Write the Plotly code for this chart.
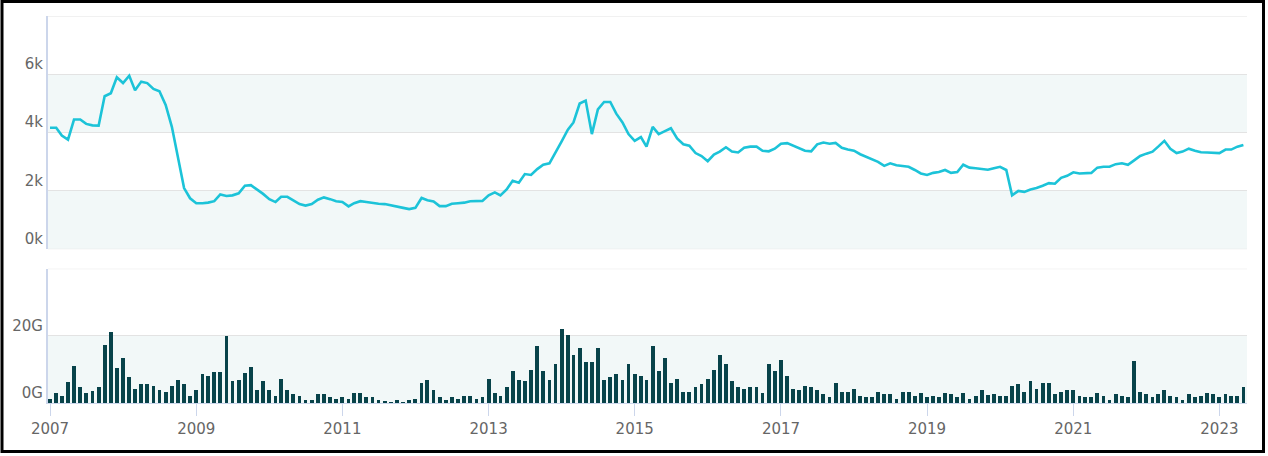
import pandas as pd
import plotly.graph_objects as go

# ---- data (monthly, Jan 2007 .. May 2023) ----
start_month = "2007-01-01"
n_months = 197

price_k = [
    4.17, 4.17, 3.90, 3.76, 4.45, 4.45, 4.30, 4.25, 4.24, 5.25,
    5.35, 5.90, 5.70, 5.95, 5.45, 5.75, 5.70, 5.50, 5.42, 4.95,
    4.20, 3.20, 2.10, 1.75, 1.58, 1.58, 1.60, 1.65, 1.88, 1.83,
    1.85, 1.92, 2.18, 2.20, 2.05, 1.90, 1.72, 1.62, 1.80, 1.80,
    1.68, 1.55, 1.50, 1.55, 1.70, 1.78, 1.72, 1.65, 1.62, 1.47,
    1.58, 1.65, 1.62, 1.58, 1.56, 1.55, 1.50, 1.45, 1.42, 1.38,
    1.42, 1.76, 1.68, 1.64, 1.48, 1.48, 1.56, 1.58, 1.60, 1.65,
    1.66, 1.66, 1.85, 1.95, 1.85, 2.05, 2.35, 2.28, 2.58, 2.55,
    2.75, 2.90, 2.95, 3.30, 3.70, 4.10, 4.35, 5.00, 5.10, 3.95,
    4.80, 5.05, 5.05, 4.65, 4.35, 3.95, 3.72, 3.85, 3.52, 4.20,
    3.95, 4.05, 4.15, 3.80, 3.60, 3.55, 3.30, 3.20, 3.02, 3.25,
    3.35, 3.50, 3.35, 3.32, 3.48, 3.52, 3.52, 3.38, 3.36, 3.45,
    3.62, 3.64, 3.55, 3.45, 3.38, 3.36, 3.60, 3.66, 3.62, 3.65,
    3.48, 3.42, 3.38, 3.26, 3.18, 3.08, 3.00, 2.86, 2.95, 2.88,
    2.85, 2.83, 2.72, 2.60, 2.55, 2.62, 2.65, 2.72, 2.62, 2.65,
    2.90, 2.80, 2.78, 2.76, 2.73, 2.78, 2.83, 2.72, 1.85, 2.00,
    1.97, 2.05, 2.10, 2.18, 2.27, 2.25, 2.45, 2.52, 2.64, 2.60,
    2.60, 2.62, 2.80, 2.83, 2.83, 2.92, 2.95, 2.90, 3.05, 3.20,
    3.28, 3.35, 3.52, 3.72, 3.45, 3.30, 3.35, 3.45, 3.38, 3.33,
    3.32, 3.32, 3.30, 3.42, 3.42, 3.52, 3.58,
]

volume_g = [
    1.2, 3.0, 2.2, 6.4, 11.2, 4.75, 3.0, 3.8, 4.75, 17.3,
    21.1, 10.4, 13.4, 7.9, 4.2, 5.7, 5.7, 5.1, 4.0, 3.3,
    5.1, 6.9, 5.7, 2.2, 4.0, 8.7, 8.1, 9.4, 9.4, 20.0,
    6.6, 6.9, 8.9, 10.7, 4.0, 6.6, 4.0, 2.2, 7.1, 4.0,
    2.8, 2.2, 1.0, 1.0, 2.8,
    2.8, 2.0, 1.3, 1.9, 1.3, 3.1, 3.1, 1.9, 1.9, 1.0,
    0.8, 0.5, 1.0, 0.4, 1.0, 1.3, 5.9, 6.8, 3.9, 1.9,
    1.0, 1.9, 1.3, 2.2, 2.2, 1.3, 1.9, 7.2, 3.1, 2.2,
    4.85, 9.5, 6.9, 6.5, 9.8, 17.0, 9.5, 6.9, 11.8, 22.0,
    20.3, 14.4, 16.4, 12.4, 12.4, 16.4, 6.8, 7.7, 8.6, 6.8,
    11.8, 8.6, 8.0, 6.8,
    17.0, 9.5, 13.6, 5.9, 7.2, 3.4, 3.4, 4.85, 5.7, 7.2,
    9.8, 14.5, 11.6, 6.5, 4.85, 4.3, 4.85, 4.85, 3.1, 11.8,
    9.5, 12.8, 8.0, 4.3, 4.0, 5.1, 4.85, 4.0, 2.8, 1.9,
    5.9, 3.4, 3.4, 4.3, 2.2, 1.9, 1.9, 3.4, 2.8, 2.8,
    1.3, 3.4, 3.4, 2.2, 3.1, 1.9, 2.2, 1.9, 3.1,
    2.8, 1.9, 3.1, 1.3, 2.2, 4.0, 2.5, 2.8, 2.2, 2.2,
    5.1, 5.7, 3.4, 6.6, 4.3, 6.0, 6.0, 2.8, 3.4, 4.0,
    4.0, 2.2, 1.9, 1.9, 3.1, 2.2, 1.0, 2.8, 2.2, 1.9,
    12.5, 3.4, 2.8, 1.9, 2.8, 4.0, 2.2, 1.9, 1.0, 2.8,
    1.9, 2.2, 3.1, 2.8, 1.9, 2.8, 2.2, 2.2, 4.85,
]

price_ticks = [0, 2000, 4000, 6000, 8000]
price_tick_text = ["0k", "2k", "4k", "6k", ""]
volume_ticks = [0, 20, 40]
volume_tick_text = ["0G", "20G", ""]

dates = pd.date_range(start_month, periods=n_months, freq="MS")
price = [v * 1000 for v in price_k]
assert len(price) == n_months and len(volume_g) == n_months

# ---- figure ----
W, H = 1268, 456
ML, MR, MT, MB = 48, 21, 16, 53
PW, PH = W - ML - MR, H - MT - MB

def py(ypx):
    return (H - MB - ypx) / PH

def px(xpx):
    return (xpx - ML) / PW

LINE_C = "#1cc3d8"
BAR_C = "#08434a"
BAND_C = "#f2f8f8"
GRID_C = "#e3e3e3"
AXIS_C = "#ccd6eb"
TXT_C = "#666666"
FS = 15

fig = go.Figure()
fig.add_trace(go.Bar(
    x=dates, y=volume_g, xaxis="x", yaxis="y2",
    marker=dict(color=BAR_C, line=dict(width=0)),
    width=19 * 24 * 3600 * 1000,
))
fig.add_trace(go.Scatter(
    x=dates, y=price, xaxis="x2", yaxis="y",
    mode="lines", line=dict(color=LINE_C, width=2.6),
))

top_dom = [py(249.3), 1.0]
bot_dom = [0.0, py(268.7)]

def hline(yref, yv):
    return dict(type="line", xref="paper", yref=yref, x0=0, x1=1, y0=yv, y1=yv,
                line=dict(color=GRID_C, width=1), layer="below")

shapes = [
    dict(type="rect", xref="paper", yref="y", x0=0, x1=1, y0=0, y1=2000,
         fillcolor=BAND_C, line=dict(width=0), layer="below"),
    dict(type="rect", xref="paper", yref="y", x0=0, x1=1, y0=4000, y1=6000,
         fillcolor=BAND_C, line=dict(width=0), layer="below"),
    dict(type="rect", xref="paper", yref="y2", x0=0, x1=1, y0=0, y1=20,
         fillcolor=BAND_C, line=dict(width=0), layer="below"),
    hline("y", 8000), hline("y", 0), hline("y2", 40),
    # outer black frame
    dict(type="rect", xref="paper", yref="paper",
         x0=px(2.0), x1=px(1263.5), y0=py(451.5), y1=py(1.5),
         line=dict(color="black", width=3), fillcolor="rgba(0,0,0,0)"),
]

fig.update_layout(
    width=W, height=H,
    margin=dict(l=ML, r=MR, t=MT, b=MB),
    paper_bgcolor="white", plot_bgcolor="white",
    showlegend=False, bargap=0,
    font=dict(family="DejaVu Sans", size=FS, color=TXT_C),
    shapes=shapes,
    xaxis=dict(
        anchor="y2", domain=[0, 1], type="date",
        range=["2006-12-22", "2023-05-19"],
        tick0="2007-01-01", dtick="M24", tickformat="%Y",
        ticks="outside", ticklen=12, tickcolor=AXIS_C, tickwidth=1,
        showline=True, linecolor=AXIS_C, linewidth=1,
        showgrid=False, zeroline=False,
        tickfont=dict(size=FS, color=TXT_C),
    ),
    xaxis2=dict(
        anchor="y", matches="x", domain=[0, 1], type="date",
        showticklabels=False, showgrid=False, showline=False,
        ticks="", zeroline=False,
    ),
    yaxis=dict(
        domain=top_dom, range=[0, 8000],
        tickvals=price_ticks, ticktext=price_tick_text,
        showgrid=True, gridcolor=GRID_C, gridwidth=1,
        showline=True, linecolor=AXIS_C, linewidth=2,
        zeroline=False, ticks="",
        ticklabelposition="outside top",
        tickfont=dict(size=FS, color=TXT_C),
    ),
    yaxis2=dict(
        domain=bot_dom, range=[0, 40],
        tickvals=volume_ticks, ticktext=volume_tick_text,
        showgrid=True, gridcolor=GRID_C, gridwidth=1,
        showline=True, linecolor=AXIS_C, linewidth=2,
        zeroline=False, ticks="",
        ticklabelposition="outside top",
        tickfont=dict(size=FS, color=TXT_C),
    ),
)

fig.write_html(
    "out.html",
    config={"displayModeBar": False},
    post_script="document.body.style.margin='0';document.body.style.overflow='hidden';",
)
